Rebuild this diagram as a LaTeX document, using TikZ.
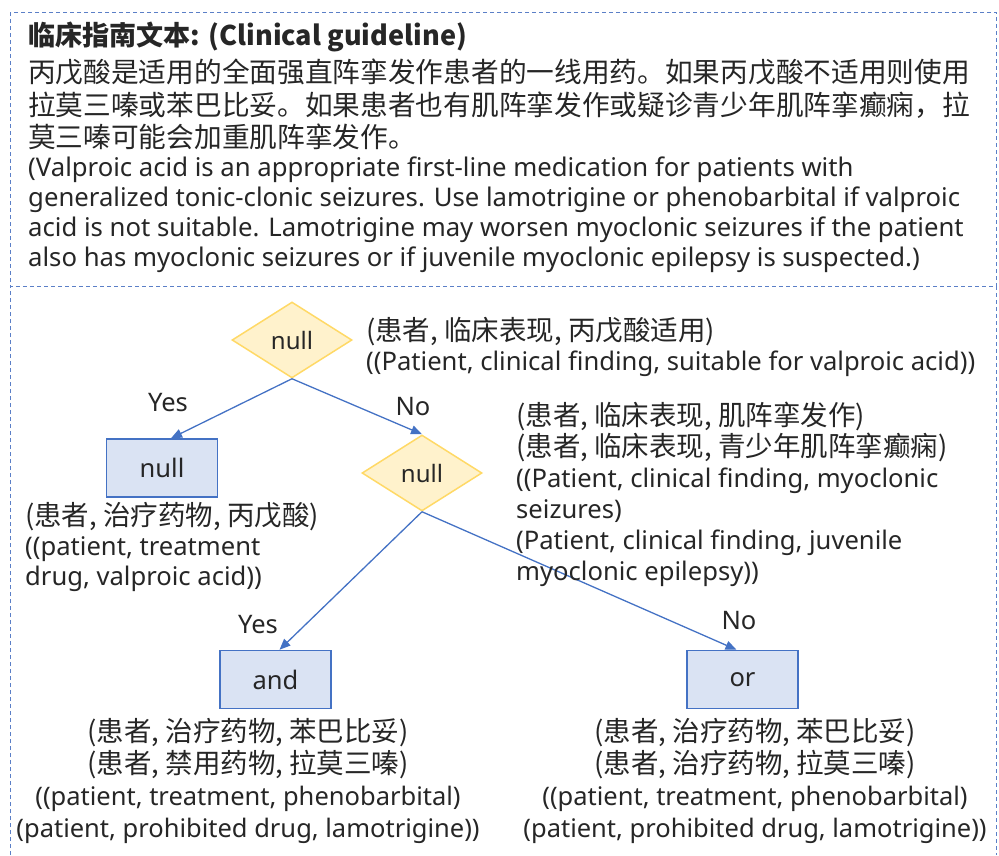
\documentclass[tikz,border=0pt]{standalone}
\usepackage{fontspec}
\setmainfont{Noto Sans}
\newfontfamily\cjk{Noto Sans CJK SC}
\newcommand\zh[1]{{\cjk\fontsize{27.5}{31}\selectfont #1}}
\usetikzlibrary{positioning, arrows.meta, shapes.geometric}
\definecolor{ink}{HTML}{262626}
\definecolor{edgeblue}{HTML}{4472C4}
\definecolor{boxfill}{HTML}{DAE3F3}
\definecolor{diafill}{HTML}{FFF2CC}
\definecolor{diaedge}{HTML}{FFD966}
\definecolor{frameblue}{HTML}{5B7FC7}
\tikzset{decision/.style={diamond, draw=diaedge, fill=diafill, line width=1.5pt, aspect=1.58,
           minimum width=120pt, minimum height=76pt, inner sep=0pt, text=ink,
           font=\fontsize{24}{28}\selectfont},
         result/.style={rectangle, draw=edgeblue, fill=boxfill, line width=1.5pt,
           minimum width=111pt, minimum height=58pt, text=ink, font=\fontsize{25.5}{28}\selectfont},
         flow/.style={draw=edgeblue, line width=1.3pt, -{Triangle[length=11pt, width=9pt]}},
         frame/.style={draw=frameblue, line width=1pt, dash pattern=on 4pt off 3pt},
         info/.style={inner sep=0pt, text=ink, align=left},
         tag/.style={inner sep=0pt, text=ink, font=\fontsize{25.5}{28}\selectfont}}

\begin{document}
\begin{tikzpicture}[x=1pt, y=-1pt]
        \useasboundingbox (0,0) rectangle (999,855);

        % Frames
        \draw[frame] (10,12) rectangle (996.5,286);
        \draw[frame] (10,855) -- (10,286);
        \draw[frame] (996.5,286) -- (996.5,855);

        % Guideline text
        \node[info, anchor=west, font=\cjk\bfseries\fontsize{27.1}{30}\selectfont] (title) at (28,37)
            {临床指南文本: (Clinical guideline)};
        \node[info, anchor=west, font=\cjk\fontsize{27.7}{32.5}\selectfont] (zhtext) at (28,104.5)
            {丙戊酸是适用的全面强直阵挛发作患者的一线用药。如果丙戊酸不适用则使用\\
             拉莫三嗪或苯巴比妥。如果患者也有肌阵挛发作或疑诊青少年肌阵挛癫痫，拉\\
             莫三嗪可能会加重肌阵挛发作。};
        \node[info, anchor=west, font=\fontsize{25.7}{30}\selectfont] (entext) at (28,215)
            {(Valproic acid is an appropriate first-line medication for patients with\\
             generalized tonic-clonic seizures. Use lamotrigine or phenobarbital if valproic\\
             acid is not suitable. Lamotrigine may worsen myoclonic seizures if the patient\\
             also has myoclonic seizures or if juvenile myoclonic epilepsy is suspected.)};

        % Decision tree
        \node[decision] (d1) at (292,340) {null};
        \node[decision] (d2) at (422,473) {null};
        \node[result] (b1) at (162,468) {null};
        \node[result] (b2) at (275.5,679.5) {and};
        \node[result] (b3) at (742.5,679.5) {or};

        \draw[flow] (d1.south) -- ([xshift=9pt]b1.north);
        \draw[flow] (d1.south) -- (d2.north);
        \draw[flow] (d2.south) -- ([xshift=4pt]b2.north);
        \draw[flow] (d2.south) -- ([xshift=-6pt]b3.north);

        \node[tag] (yes1) at (168,403) {Yes};
        \node[tag] (no1) at (413,407) {No};
        \node[tag] (yes2) at (258,625) {Yes};
        \node[tag] (no2) at (739,621) {No};

        % Triples
        \node[info, anchor=west, font=\fontsize{25.6}{30}\selectfont] (t1) at (366,347)
            {\zh{(患者, 临床表现, 丙戊酸适用)}\\
             ((Patient, clinical finding, suitable for valproic acid))};
        \node[info, anchor=west, font=\fontsize{25.6}{31}\selectfont] (t2) at (516,494)
            {\zh{(患者, 临床表现, 肌阵挛发作)}\\
             \zh{(患者, 临床表现, 青少年肌阵挛癫痫)}\\
             ((Patient, clinical finding, myoclonic\\
             seizures)\\
             (Patient, clinical finding, juvenile\\
             myoclonic epilepsy))};
        \node[info, anchor=west, font=\fontsize{25.6}{30}\selectfont] (t3) at (25,547)
            {\zh{(患者, 治疗药物, 丙戊酸)}\\
             ((patient, treatment\\
             drug, valproic acid))};
        \node[info, align=center, font=\fontsize{25.5}{32}\selectfont] (t4) at (248,781)
            {\zh{(患者, 治疗药物, 苯巴比妥)}\\
             \zh{(患者, 禁用药物, 拉莫三嗪)}\\
             ((patient, treatment, phenobarbital)\\
             (patient, prohibited drug, lamotrigine))};
        \node[info, align=center, font=\fontsize{25.5}{32}\selectfont] (t5) at (755,781)
            {\zh{(患者, 治疗药物, 苯巴比妥)}\\
             \zh{(患者, 治疗药物, 拉莫三嗪)}\\
             ((patient, treatment, phenobarbital)\\
             (patient, prohibited drug, lamotrigine))};

    \end{tikzpicture}
\end{document}
